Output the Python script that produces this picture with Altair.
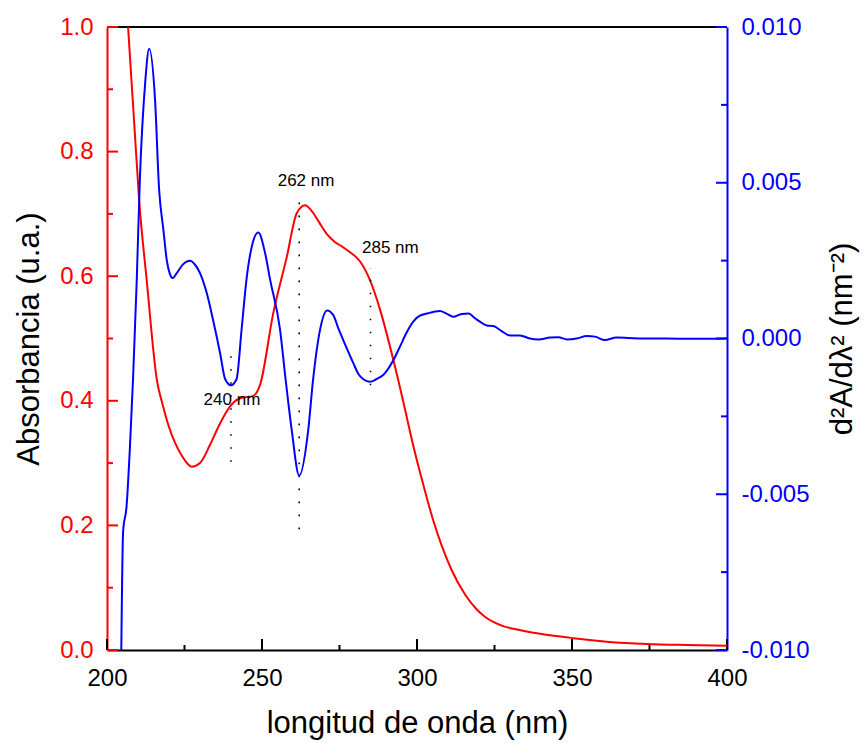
import altair as alt
import pandas as pd

# ---- data ----
abs_nm = [205.5, 206.8, 208.6, 210.4, 212.8, 216.1, 218.0, 220.0, 222.0, 224.0, 226.0,
          227.3, 230.0, 233.2, 236.5, 239.7, 242.9, 247.2, 249.4, 253.6, 258.0, 261.2,
          263.9, 266.0, 268.5, 271.0, 273.5, 276.0, 278.5, 281.6, 284.8, 288.1, 292.4,
          295.6, 298.8, 302.0, 305.0, 308.0, 311.2, 315.5, 319.3, 322.0, 324.6, 328.0,
          331.1, 335.0, 339.7, 350.4, 361.2, 374.1, 387.0, 400.0]
abs_val = [1.11, 1.00, 0.86, 0.72, 0.594, 0.433, 0.393, 0.358, 0.332, 0.313, 0.299,
           0.294, 0.300, 0.329, 0.364, 0.391, 0.404, 0.408, 0.426, 0.540, 0.631, 0.701,
           0.714, 0.705, 0.686, 0.667, 0.655, 0.647, 0.638, 0.624, 0.594, 0.546, 0.465,
           0.398, 0.328, 0.266, 0.212, 0.167, 0.128, 0.089, 0.065, 0.053, 0.045, 0.038,
           0.034, 0.030, 0.026, 0.019, 0.0134, 0.0096, 0.008, 0.007]

d2_nm = [204.6, 205.2, 206.3, 207.4, 208.4, 209.6, 210.6, 212.3, 213.6, 215.5, 216.8,
         218.2, 219.3, 220.2, 221.2, 222.5, 224.5, 226.8, 228.9, 230.0, 232.2, 234.2,
         236.5, 238.1, 240.0, 241.8, 243.4, 245.0, 246.7, 248.8, 251.0, 252.6, 255.8,
         257.6, 259.6, 262.0, 264.9, 266.5, 268.7, 271.0, 273.0, 274.6, 276.2, 277.8,
         279.5, 281.1, 282.7, 284.8, 287.0, 289.1, 292.4, 294.5, 296.7, 298.8, 300.4,
         303.6, 307.4, 309.5, 311.7, 314.4, 316.6, 318.7, 320.3, 322.5, 324.6, 327.3,
         330.0, 333.2, 336.4, 339.2, 343.0, 345.6, 348.4, 351.5, 354.8, 357.4, 360.6,
         364.4, 368.0, 373.0, 380.0, 390.0, 400.0]
d2_val = [-0.0101, -0.0062, -0.0054, -0.00348, -0.0013, 0.00188, 0.0051, 0.00819, 0.0093,
          0.00766, 0.0048, 0.00348, 0.0025, 0.0021, 0.00194, 0.0021, 0.00238, 0.0025,
          0.0023, 0.0021, 0.00145, 0.0006, -0.00048, -0.0013, -0.0015, -0.0013, 0.00027,
          0.0019, 0.00295, 0.0034, 0.00274, 0.0019, 0.0003, -0.0013, -0.00295, -0.0044,
          -0.00295, -0.0013, 0.00027, 0.0009, 0.00075, 0.00033, -0.00005, -0.00042,
          -0.0008, -0.00114, -0.00131, -0.00139, -0.0013, -0.00117, -0.00069, -0.00026,
          0.0002, 0.00054, 0.0007, 0.00081, 0.00088, 0.0008, 0.0007, 0.00079, 0.0008,
          0.00065, 0.00054, 0.00042, 0.0004, 0.00024, 0.0001, 0.0001, 0.0, -0.00003,
          0.00003, 0.00004, -0.00003, 0.0, 0.00008, 0.00006, -0.00005, 0.00003, 0.00002,
          0.0, 0.0, -0.00001, 0.0]

marker_nm = [240, 262, 285]
marker_lo = [0.302, 0.194, 0.425]
marker_hi = [0.49, 0.732, 0.613]
label_nm = [240.3, 264.2, 291.4]
label_abs = [0.401, 0.753, 0.646]
label_txt = ["240 nm", "262 nm", "285 nm"]

x_major = [200, 250, 300, 350, 400]
x_minor = [225, 275, 325, 375]
yl_major = [0.0, 0.2, 0.4, 0.6, 0.8, 1.0]
yl_minor = [0.1, 0.3, 0.5, 0.7, 0.9]
yr_major = [-0.01, -0.005, 0.0, 0.005, 0.01]
yr_minor = [-0.0075, -0.0025, 0.0025, 0.0075]

W, H = 620, 623
FONT = "Liberation Sans"
RED, BLUE = "#ff0000", "#0000ff"
MAJ, MIN = 11, 6

xscale = alt.Scale(domain=[200, 400], nice=False, zero=False)
lscale = alt.Scale(domain=[0, 1], nice=False, zero=False)
rscale = alt.Scale(domain=[-0.01, 0.01], nice=False, zero=False)

xaxis = alt.Axis(values=x_major, format="d", title="longitud de onda (nm)", grid=False,
                 ticks=False, domainColor="black", domainWidth=2, labelColor="black",
                 labelFontSize=24, labelFont=FONT, labelPadding=16, labelFlush=False,
                 titleFont=FONT, titleFontSize=31, titleFontWeight="normal",
                 titleColor="black", titlePadding=18)

lax = alt.Axis(values=yl_major, format=".1f", title="Absorbancia (u.a.)", grid=False,
               ticks=False, domainColor=RED, domainWidth=2, labelColor=RED,
               labelFontSize=24, labelFont=FONT, labelPadding=14, labelFlush=False,
               titleFont=FONT, titleFontSize=31, titleFontWeight="normal",
               titleColor="black", titlePadding=14)

rax = alt.Axis(values=yr_major, orient="right", title="d²A/dλ² (nm⁻²)", grid=False,
               labelExpr="datum.value < -1e-9 ? '-' + format(-datum.value, '.3f') : format(abs(datum.value), '.3f')",
               ticks=False, domainColor=BLUE, domainWidth=2, labelColor=BLUE,
               labelFontSize=24, labelFont=FONT, labelPadding=14, labelFlush=False,
               titleFont=FONT, titleFontSize=31, titleFontWeight="normal",
               titleColor="black", titlePadding=18, titleAngle=270, titleBaseline="top")

df_abs = pd.DataFrame({"nm": abs_nm, "v": abs_val})
df_d2 = pd.DataFrame({"nm": d2_nm, "v": d2_val})
df_mark = pd.DataFrame({"nm": marker_nm, "lo": marker_lo, "hi": marker_hi})
df_lab = pd.DataFrame({"nm": label_nm, "v": label_abs, "t": label_txt})

red_line = alt.Chart(df_abs).mark_line(color=RED, strokeWidth=2, clip=True,
                                       interpolate="monotone").encode(
    x=alt.X("nm:Q", scale=xscale, axis=xaxis),
    y=alt.Y("v:Q", scale=lscale, axis=lax),
)

dots = alt.Chart(df_mark).mark_rule(color="black", strokeWidth=1.6,
                                    strokeDash=[1.6, 11.4]).encode(
    x=alt.X("nm:Q", scale=xscale),
    y=alt.Y("lo:Q", scale=lscale),
    y2="hi:Q",
)

labels = alt.Chart(df_lab).mark_text(font=FONT, fontSize=17, color="black",
                                     align="center", baseline="middle").encode(
    x=alt.X("nm:Q", scale=xscale),
    y=alt.Y("v:Q", scale=lscale),
    text="t:N",
)

def ylticks(vals, ln):
    return alt.Chart(pd.DataFrame({"v": vals})).mark_rule(color=RED, strokeWidth=2).encode(
        y=alt.Y("v:Q", scale=lscale), x=alt.value(0), x2=alt.value(ln))

def xticks(vals, ln):
    return alt.Chart(pd.DataFrame({"v": vals})).mark_rule(color="black", strokeWidth=2).encode(
        x=alt.X("v:Q", scale=xscale), y=alt.value(H), y2=alt.value(H - ln))

def yrticks(vals, ln):
    return alt.Chart(pd.DataFrame({"v": vals})).mark_rule(color=BLUE, strokeWidth=2).encode(
        y=alt.Y("v:Q", scale=rscale), x=alt.value(W), x2=alt.value(W - ln))

top_border = alt.Chart(pd.DataFrame({"a": [0]})).mark_rule(color="black", strokeWidth=2).encode(
    x=alt.value(0), x2=alt.value(W), y=alt.value(0))

left_group = alt.layer(
    top_border, xticks(x_major, MAJ), xticks(x_minor, 5),
    ylticks(yl_major, MAJ), ylticks(yl_minor, MIN),
    red_line, dots, labels,
)

blue_line = alt.Chart(df_d2).mark_line(color=BLUE, strokeWidth=2, clip=True,
                                       interpolate="monotone").encode(
    x=alt.X("nm:Q", scale=xscale),
    y=alt.Y("v:Q", scale=rscale, axis=rax),
)

right_group = alt.layer(yrticks(yr_major, MAJ), yrticks(yr_minor, MIN), blue_line)

chart = alt.layer(left_group, right_group).resolve_scale(y="independent").properties(
    width=W, height=H,
    autosize=alt.AutoSizeParams(type="none"),
    padding={"left": 107, "top": 27, "right": 137, "bottom": 93},
    background="white",
).configure_view(stroke=None)

chart.save("out.html", embed_options={"renderer": "svg", "actions": False})
